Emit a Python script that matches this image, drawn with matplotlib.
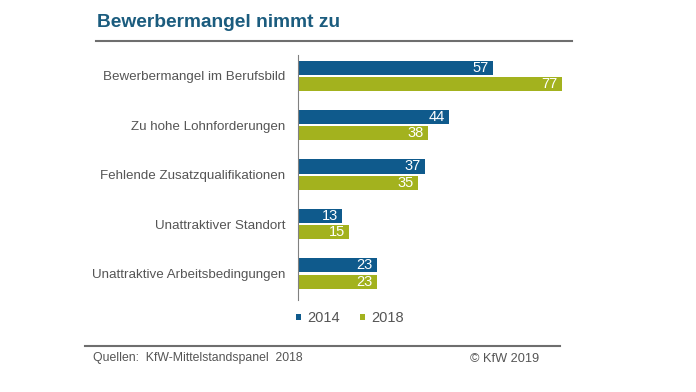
import matplotlib.pyplot as plt
import numpy as np

plt.rcParams['font.family'] = ['Liberation Sans', 'DejaVu Sans']

# Data
categories = ['Bewerbermangel im Berufsbild', 'Zu hohe Lohnforderungen',
              'Fehlende Zusatzqualifikationen', 'Unattraktiver Standort',
              'Unattraktive Arbeitsbedingungen']
v2014 = [57, 44, 37, 13, 23]
v2018 = [77, 38, 35, 15, 23]
years = ['2014', '2018']

blue = '#0f5a8c'
green = '#a3b21e'
grey_txt = '#555555'

fig = plt.figure(figsize=(6.96, 3.92), dpi=100)
ax = fig.add_axes([0.428, 0.235, 0.394, 0.625])

y = np.arange(len(categories))
h = 0.285
off = 0.165
b1 = ax.barh(y - off, v2014, height=h, color=blue, label=years[0])
b2 = ax.barh(y + off, v2018, height=h, color=green, label=years[1])

for bars in (b1, b2):
    for bar in bars:
        w = bar.get_width()
        ax.text(w - 1.2, bar.get_y() + bar.get_height() / 2, f'{w:.0f}',
                ha='right', va='center', color='white', fontsize=10.5)

ax.set_xlim(0, 80)
ax.set_ylim(4.536, -0.425)
ax.set_yticks(y)
ax.set_yticklabels(categories, fontsize=9.6, color=grey_txt)
ax.tick_params(axis='y', length=0, pad=9)
ax.set_xticks([])
for s in ['top', 'right', 'bottom']:
    ax.spines[s].set_visible(False)
ax.spines['left'].set_color('#808080')

leg = fig.legend(handles=[b1, b2], labels=years, loc='center', bbox_to_anchor=(0.503, 0.188),
                 ncol=2, frameon=False, fontsize=10.5, handlelength=0.3, handleheight=0.3,
                 columnspacing=1.4, handletextpad=0.45, labelcolor=grey_txt)

# Title and rules
fig.text(0.139, 0.943, 'Bewerbermangel nimmt zu', fontsize=13.8, fontweight='bold',
         color='#1b5c7e', va='center', ha='left')
fig.add_artist(plt.Line2D([0.138, 0.822], [0.895, 0.895], color='#6e6e6e', lw=1.5))
fig.add_artist(plt.Line2D([0.122, 0.805], [0.117, 0.117], color='#6e6e6e', lw=1.5))
fig.text(0.133, 0.088, 'Quellen:  KfW-Mittelstandspanel  2018', fontsize=8.8,
         color=grey_txt, va='center', ha='left')
fig.text(0.775, 0.085, '© KfW 2019', fontsize=9.2, color=grey_txt, va='center', ha='right')

fig.savefig('out.png', dpi=100)
